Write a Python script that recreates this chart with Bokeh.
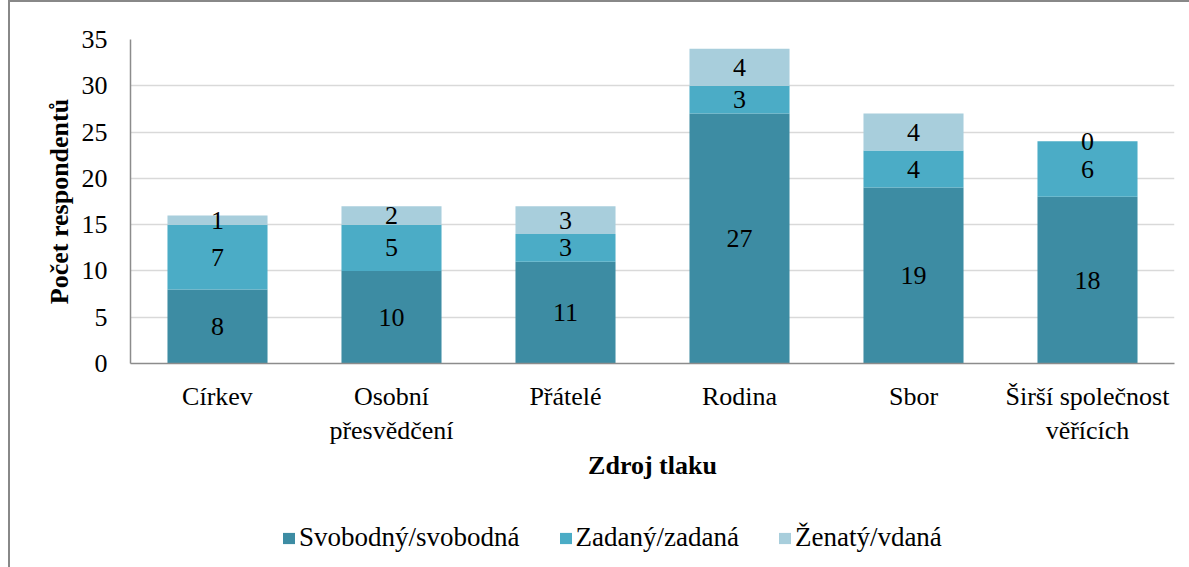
from bokeh.plotting import figure
from bokeh.layouts import column
from bokeh.models import ColumnDataSource, FactorRange, Range1d, Legend, LegendItem, FixedTicker
from bokeh.core.properties import value
from bokeh.embed import file_html
from bokeh.resources import INLINE

# ---- data ----
categories = ["Církev", "Osobní\npřesvědčení", "Přátelé", "Rodina", "Sbor", "Širší společnost\nvěřících"]
svobodny = [8, 10, 11, 27, 19, 18]
zadany = [7, 5, 3, 3, 4, 6]
zenaty = [1, 2, 3, 4, 4, 0]
series_names = ["Svobodný/svobodná", "Zadaný/zadaná", "Ženatý/vdaná"]
series_keys = ["svobodny", "zadany", "zenaty"]
colors = ["#3D8CA3", "#4BACC6", "#A8CEDC"]
y_ticks = [0, 5, 10, 15, 20, 25, 30, 35]
x_title = "Zdroj tlaku"
y_title = "Počet respondentů"

FONT = "Liberation Serif"

source = ColumnDataSource(dict(cat=categories, svobodny=svobodny, zadany=zadany, zenaty=zenaty))

p = figure(
    x_range=FactorRange(*categories, range_padding=0),
    y_range=Range1d(0, 35),
    width=1189, height=500,
    output_backend="svg", toolbar_location=None,
    min_border_left=130, min_border_top=39, min_border_right=15, min_border_bottom=137,
)
p.outline_line_color = None
p.background_fill_color = "white"
p.border_fill_alpha = 0

renderers = p.vbar_stack(series_keys, x="cat", width=0.575, color=colors, line_color=None,
                         source=source)

# data labels
vals = [svobodny, zadany, zenaty]
bottoms = [0] * len(categories)
lx, ly, lt = [], [], []
for s in vals:
    for i, v in enumerate(s):
        lx.append(categories[i])
        ly.append(bottoms[i] + v / 2)
        lt.append(str(v))
        bottoms[i] += v
p.text(x=lx, y=ly, text=lt, text_align="center", text_baseline="middle",
       text_font=value(FONT), text_font_size="26px", text_color="black")

# axes
p.xgrid.grid_line_color = None
p.ygrid.grid_line_color = "#D9D9D9"
p.ygrid.grid_line_width = 1.5

p.yaxis.ticker = FixedTicker(ticks=y_ticks)
for ax in (p.xaxis[0], p.yaxis[0]):
    ax.major_tick_line_color = None
    ax.minor_tick_line_color = None
    ax.axis_line_color = "#8C8C8C"
    ax.axis_line_width = 1.5
    ax.major_label_text_font = FONT
    ax.major_label_text_font_size = "26px"
    ax.major_label_text_color = "black"
    ax.axis_label_text_font = FONT
    ax.axis_label_text_font_size = "26px"
    ax.axis_label_text_font_style = "bold"
    ax.axis_label_text_color = "black"

p.xaxis.axis_label = x_title
p.yaxis.axis_label = y_title
p.xaxis.major_label_standoff = 12
p.xaxis.axis_label_standoff = 3
p.yaxis.major_label_standoff = 17
p.yaxis.axis_label_standoff = 5
p.yaxis.major_label_orientation = "horizontal"

# legend strip below the chart
p2 = figure(width=1189, height=67, output_backend="svg", toolbar_location=None,
            x_axis_type=None, y_axis_type=None,
            x_range=Range1d(0, 1), y_range=Range1d(0, 1),
            min_border_left=0, min_border_right=0, min_border_top=0, min_border_bottom=0)
p2.outline_line_color = None
p2.xgrid.grid_line_color = None
p2.ygrid.grid_line_color = None
p2.border_fill_alpha = 0
p2.background_fill_alpha = 0
leg_renderers = [p2.rect(x=[-5], y=[-5], width=0.1, height=0.1, fill_color=c, line_color=None)
                 for c in colors]

legend = Legend(
    items=[LegendItem(label=n, renderers=[r]) for n, r in zip(series_names, leg_renderers)],
    orientation="horizontal", location=(151, 14),
    label_text_font=FONT, label_text_font_size="27px", label_text_color="black",
    glyph_width=15, glyph_height=14, label_standoff=3, spacing=38,
    padding=0, margin=0, border_line_color=None, background_fill_alpha=0,
    label_height=26,
)
p2.add_layout(legend, "center")

layout = column(p, p2, spacing=0)
layout.styles = {
    "background-color": "white",
    "background-image": "linear-gradient(#888888, #888888), linear-gradient(#888888, #888888)",
    "background-size": "2px 100%, 100% 2px",
    "background-position": "8px 0px, 8px 0px",
    "background-repeat": "no-repeat",
}
open("out.html", "w").write(file_html(layout, INLINE))
